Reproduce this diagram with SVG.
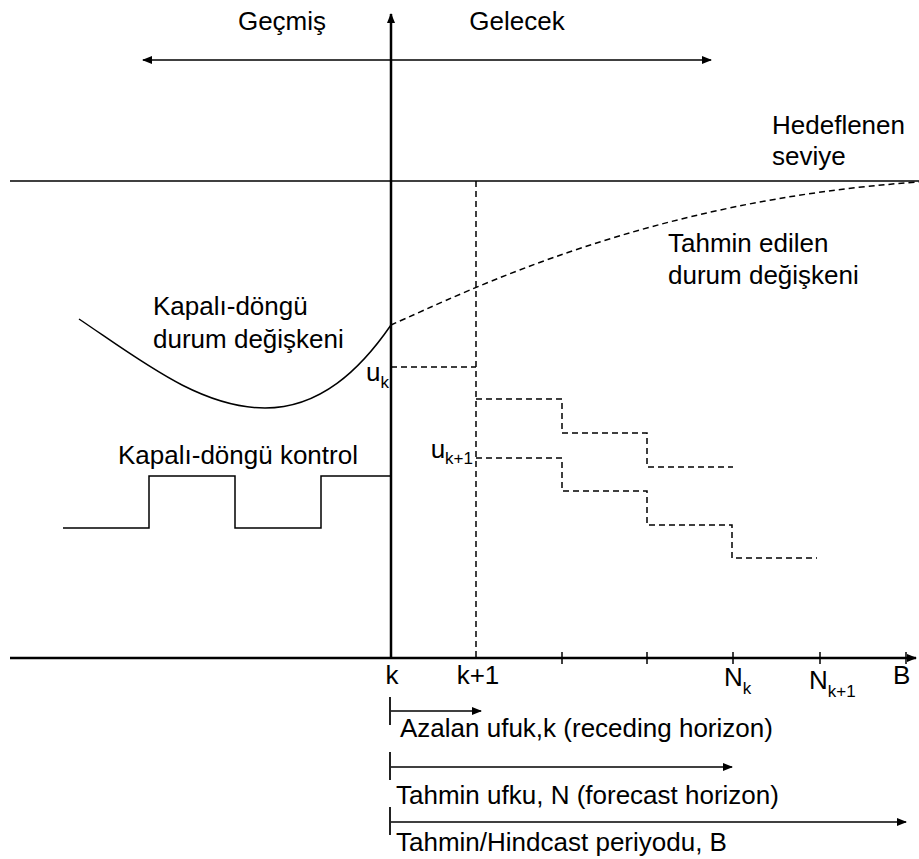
<svg xmlns="http://www.w3.org/2000/svg" width="919" height="859" viewBox="0 0 919 859">
<style>
text{font-family:"Liberation Sans",Arial,sans-serif;font-size:26px;fill:#000}
.sub{font-size:17px}
.ax{stroke:#000;stroke-width:2.5;fill:none}
.thin{stroke:#000;stroke-width:1.5;fill:none}
.dash{stroke:#000;stroke-width:1.5;fill:none;stroke-dasharray:6 4}
.bar{stroke:#222;stroke-width:2;fill:none}
</style>
<defs>
<marker id="ah" viewBox="0 0 10 10" refX="9" refY="5" markerWidth="10" markerHeight="10" markerUnits="userSpaceOnUse" orient="auto-start-reverse">
<path d="M0,1 L10,5 L0,9 Z" fill="#000"/>
</marker>
</defs>
<rect width="919" height="859" fill="#fff"/>
<g id="connectors">
<line x1="10" y1="181" x2="919" y2="181" stroke="#404040" stroke-width="2.2"/>
<line class="ax" x1="391" y1="658" x2="391" y2="14" marker-end="url(#ah)"/>
<line class="ax" x1="10" y1="658" x2="916" y2="658" marker-end="url(#ah)"/>
<line class="thin" x1="143" y1="60" x2="711" y2="60" marker-start="url(#ah)" marker-end="url(#ah)"/>
<g class="ax" style="stroke-width:1.5">
<line x1="562" y1="652" x2="562" y2="664"/>
<line x1="647" y1="652" x2="647" y2="664"/>
<line x1="733" y1="652" x2="733" y2="664"/>
<line x1="820" y1="652" x2="820" y2="664"/>
<line x1="906" y1="652" x2="906" y2="664"/>
</g>
<path class="thin" d="M79,319 C140,360 200,408 265,408 C320,408 360,370 391,325"/>
<path class="dash" d="M391,325 C470,290 650,200 919,182"/>
<path class="thin" d="M63,528 H149 V476 H235 V528 H321 V476 H391"/>
<line class="dash" x1="476" y1="181" x2="476" y2="657"/>
<path class="dash" d="M391,367 H476"/>
<path class="dash" d="M476,399 H562 V433 H647 V467 H733"/>
<path class="dash" d="M476,458 H562 V491 H647 V525 H732 V558 H817"/>
<line class="bar" x1="390" y1="697" x2="390" y2="725"/>
<line class="thin" x1="391" y1="711" x2="481" y2="711" marker-end="url(#ah)"/>
<line class="bar" x1="390" y1="752" x2="390" y2="780"/>
<line class="thin" x1="391" y1="767" x2="732" y2="767" marker-end="url(#ah)"/>
<line class="bar" x1="390" y1="807" x2="390" y2="835"/>
<line class="thin" x1="391" y1="822" x2="906" y2="822" marker-end="url(#ah)"/>
</g>
<g id="labels">
<text x="282" y="30" text-anchor="middle">Geçmiş</text>
<text x="517" y="30" text-anchor="middle">Gelecek</text>
<text x="772" y="134">Hedeflenen</text>
<text x="772" y="165">seviye</text>
<text x="668" y="252">Tahmin edilen</text>
<text x="668" y="284">durum değişkeni</text>
<text x="153" y="315">Kapalı-döngü</text>
<text x="153" y="348">durum değişkeni</text>
<text x="118" y="464">Kapalı-döngü kontrol</text>
<text x="389" y="381" text-anchor="end">u<tspan class="sub" dy="7">k</tspan></text>
<text x="473" y="458" text-anchor="end">u<tspan class="sub" dy="6">k+1</tspan></text>
<text x="392" y="684" text-anchor="middle">k</text>
<text x="478" y="684" text-anchor="middle">k+1</text>
<text x="724" y="686">N<tspan class="sub" dy="8">k</tspan></text>
<text x="809" y="689">N<tspan class="sub" dy="8">k+1</tspan></text>
<text x="893" y="684">B</text>
<text x="400" y="737">Azalan ufuk,k (receding horizon)</text>
<text x="396" y="804">Tahmin ufku, N (forecast horizon)</text>
<text x="396" y="851">Tahmin/Hindcast periyodu, B</text>
</g>
</svg>
